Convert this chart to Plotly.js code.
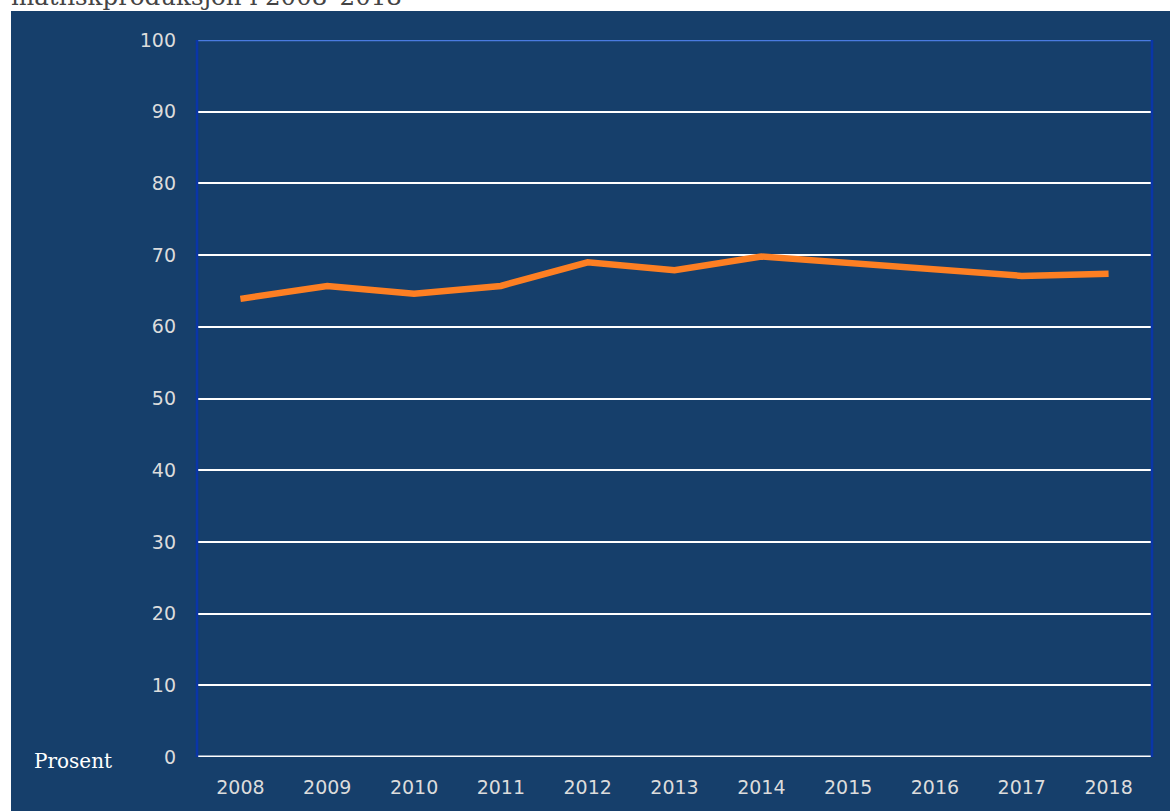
<!DOCTYPE html>
<html>
<head>
<meta charset="utf-8">
<script src="https://cdn.plot.ly/plotly-3.0.1.min.js"></script>
<style>
html,body{margin:0;padding:0;background:#fff;width:1170px;height:811px;overflow:hidden;position:relative;}
#title{position:absolute;left:11px;top:-18px;font-family:"DejaVu Serif",serif;font-size:24.5px;color:#444;white-space:nowrap;}
#chart{position:absolute;left:11px;top:11px;width:1159px;height:800px;}
</style>
</head>
<body>
<div id="title">matfiskproduksjon i 2008–2018</div>
<div id="chart"></div>
<script>
var years = ['2008','2009','2010','2011','2012','2013','2014','2015','2016','2017','2018'];
var values = [63.9, 65.7, 64.6, 65.7, 69.0, 67.9, 69.8, 68.9, 67.8, 67.1, 67.4];
var yTicks = [0,10,20,30,40,50,60,70,80,90,100];

var trace = {
  x: years, y: values, type: 'scatter', mode: 'lines',
  line: {color: '#fd7f23', width: 6.5},
  hoverinfo: 'skip'
};
var layout = {
  width: 1159, height: 800,
  paper_bgcolor: '#163f6b', plot_bgcolor: '#163f6b',
  margin: {l: 186, r: 18, t: 29, b: 54},
  showlegend: false,
  font: {family: '"DejaVu Serif", serif', color: '#e6e6e6', size: 17},
  xaxis: {
    type: 'category', range: [-0.5, 10.5], showgrid: false, zeroline: false,
    showline: false, ticks: '', ticklen: 0,
    tickfont: {family: '"DejaVu Sans", sans-serif', size: 19, color: '#dcdcdc'},
    ticklabelstandoff: 17
  },
  yaxis: {
    range: [0, 100], tickvals: yTicks, showgrid: true, gridcolor: '#ffffff', gridwidth: 2,
    zeroline: false, showline: false, ticks: '',
    tickfont: {family: '"DejaVu Sans", sans-serif', size: 19, color: '#dcdcdc'},
    ticklabelstandoff: 20
  },
  shapes: [
    {type:'line', xref:'paper', yref:'y', x0:0, x1:1, y0:0, y1:0, line:{color:'#ffffff', width:3}},
    {type:'line', xref:'paper', yref:'y', x0:0, x1:1, y0:100, y1:100, line:{color:'#4a7be0', width:2.5}},
    {type:'line', xref:'paper', yref:'paper', x0:0, x1:0, y0:0, y1:1, line:{color:'#0a35a8', width:2.5}},
    {type:'line', xref:'paper', yref:'paper', x0:1, x1:1, y0:0, y1:1, line:{color:'#0a35a8', width:2.5}}
  ],
  annotations: [
    {text: 'Prosent', xref:'paper', yref:'paper', x: -0.1725, y: -0.005, xanchor:'left', yanchor:'middle',
     showarrow:false, font:{family:'"DejaVu Serif", serif', size: 20, color:'#ffffff'}}
  ]
};
Plotly.newPlot('chart', [trace], layout, {staticPlot: true, displayModeBar: false});
</script>
</body>
</html>
